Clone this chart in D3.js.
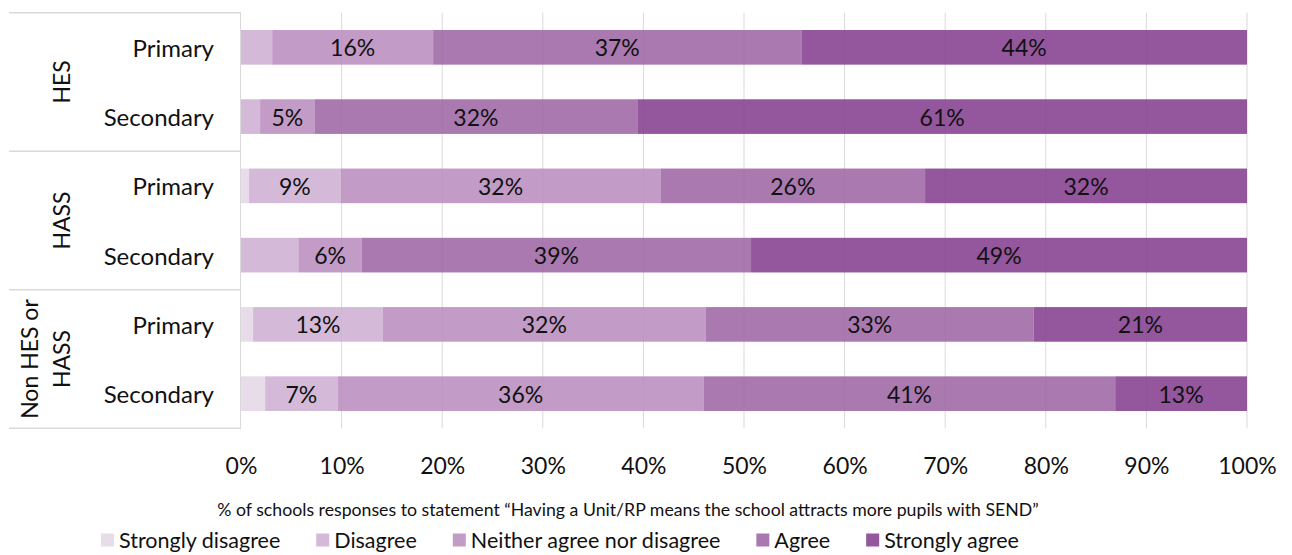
<!DOCTYPE html>
<html>
<head>
<meta charset="utf-8">
<script src="https://cdn.jsdelivr.net/npm/d3@7/dist/d3.min.js"></script>
<style>
  html, body { margin: 0; padding: 0; background: #fff; }
  svg { display: block; }
  text { font-family: Lato, "Open Sans", sans-serif; fill: #111; }
</style>
</head>
<body>
<svg id="chart" width="1292" height="555"></svg>
<script>
// ---------- data ----------
const groups = ["HES", "HASS", "Non HES or HASS"];
const subCategories = ["Primary", "Secondary"];
const seriesNames = ["Strongly disagree", "Disagree", "Neither agree nor disagree", "Agree", "Strongly agree"];
// rows: HES-Primary, HES-Secondary, HASS-Primary, HASS-Secondary, Non-Primary, Non-Secondary
const stronglyDisagree = [0, 0, 0.8, 0, 1.2, 2.4];
const disagree         = [3.1, 1.9, 9.1, 5.7, 12.9, 7.2];
const neither          = [16.0, 5.4, 31.8, 6.3, 32.1, 36.4];
const agree            = [36.6, 32.1, 26.3, 38.7, 32.6, 40.9];
const stronglyAgree    = [44.3, 60.6, 32.0, 49.3, 21.2, 13.1];
// which segments carry a data label
const labelSD = [false, false, false, false, false, false];
const labelD  = [false, false, true, false, true, true];
const labelN  = [true, true, true, true, true, true];
const labelA  = [true, true, true, true, true, true];
const labelSA = [true, true, true, true, true, true];
const tickValues = [0, 10, 20, 30, 40, 50, 60, 70, 80, 90, 100];
const axisTitle = "% of schools responses to statement \u201CHaving a Unit/RP means the school attracts more pupils with SEND\u201D";

// ---------- styles ----------
const colors = ["#e5d6e7", "#ceb0d3", "#ba8dbe", "#9d66a5", "#853f8f"];
const legendColors = ["#e8dbea", "#d4b9d8", "#c29bc6", "#a978b0", "#94569c"];
const barOpacity = 0.88;
const lineColor = "#d9d9d9";

const seriesValues = [stronglyDisagree, disagree, neither, agree, stronglyAgree];
const seriesLabels = [labelSD, labelD, labelN, labelA, labelSA];

const rows = [];
groups.forEach((g, gi) => subCategories.forEach((s, si) => rows.push({ id: gi * 2 + si, group: g, sub: s })));

const svg = d3.select("#chart");
const plotTop = 12.7, plotBottom = 428.3, plotLeft = 241, plotRight = 1247;
const boxLeft = 9;

const x = d3.scaleLinear().domain([0, 100]).range([plotLeft, plotRight]);
const y = d3.scaleBand().domain(rows.map(r => r.id)).range([plotTop, plotBottom]).paddingInner(0.5).paddingOuter(0.25);
const yGroup = d3.scaleBand().domain(groups).range([plotTop, plotBottom]);

// gridlines
svg.append("g").selectAll("line").data(tickValues.slice(1)).join("line")
  .attr("x1", d => x(d)).attr("x2", d => x(d))
  .attr("y1", plotTop).attr("y2", plotBottom)
  .attr("stroke", lineColor).attr("stroke-width", 1);

// stacked data
const stackData = rows.map(r => {
  const o = { id: r.id };
  seriesNames.forEach((n, i) => o[n] = seriesValues[i][r.id]);
  return o;
});
const stacked = d3.stack().keys(seriesNames)(stackData);

const layers = svg.append("g").selectAll("g").data(stacked).join("g")
  .attr("fill", (d, i) => colors[i]).attr("fill-opacity", barOpacity);
layers.selectAll("rect").data(d => d).join("rect")
  .attr("x", d => x(d[0]))
  .attr("width", d => Math.max(0, x(d[1]) - x(d[0])))
  .attr("y", d => y(d.data.id))
  .attr("height", y.bandwidth());

// data labels
const labelG = svg.append("g");
stacked.forEach((layer, si) => {
  layer.forEach(d => {
    const id = d.data.id;
    if (!seriesLabels[si][id]) return;
    labelG.append("text")
      .attr("x", x((d[0] + d[1]) / 2))
      .attr("y", y(id) + y.bandwidth() / 2)
      .attr("text-anchor", "middle")
      .attr("dominant-baseline", "central")
      .style("font-size", "23px")
      .text(Math.round(seriesValues[si][id]) + "%");
  });
});

// category axis box
svg.append("line").attr("x1", x(0) - 0.5).attr("x2", x(0) - 0.5).attr("y1", plotTop).attr("y2", plotBottom)
  .attr("stroke", lineColor);
const sepYs = [plotTop].concat(groups.map(g => yGroup(g) + yGroup.bandwidth()));
svg.append("g").selectAll("line").data(sepYs).join("line")
  .attr("x1", boxLeft).attr("x2", x(0)).attr("y1", d => d).attr("y2", d => d)
  .attr("stroke", lineColor).attr("stroke-width", 1.5);

// sub category labels
svg.append("g").selectAll("text").data(rows).join("text")
  .attr("x", 214)
  .attr("y", d => y(d.id) + y.bandwidth() / 2)
  .attr("text-anchor", "end")
  .attr("dominant-baseline", "central")
  .style("font-size", "24px")
  .text(d => d.sub);

// group labels (rotated)
const groupLines = { "HES": ["HES"], "HASS": ["HASS"], "Non HES or HASS": ["Non HES or", "HASS"] };
groups.forEach(g => {
  const lines = groupLines[g];
  const cy = yGroup(g) + yGroup.bandwidth() / 2;
  lines.forEach((ln, li) => {
    const cx = 61 - (lines.length - 1 - li) * 32;
    svg.append("text")
      .attr("transform", `translate(${cx},${cy}) rotate(-90)`)
      .attr("text-anchor", "middle")
      .attr("dominant-baseline", "central")
      .style("font-size", "23px")
      .text(ln);
  });
});

// x axis
const xAxis = d3.axisBottom(x).tickValues(tickValues).tickFormat(d => d + "%").tickSize(0).tickPadding(29);
const axG = svg.append("g").attr("transform", `translate(0,${plotBottom})`).call(xAxis);
axG.select(".domain").remove();
axG.selectAll("text").style("font-size", "23px").attr("fill", "#111").style("font-family", "Lato, sans-serif");

// axis title (centred over the plot area including the category box)
svg.append("text")
  .attr("x", (boxLeft + plotRight) / 2)
  .attr("y", 509)
  .attr("text-anchor", "middle")
  .attr("dominant-baseline", "central")
  .style("font-size", "17.7px")
  .text(axisTitle);

// legend
const legend = svg.append("g").attr("transform", "translate(101,540)");
let lx = 0;
seriesNames.forEach((n, i) => {
  legend.append("rect").attr("x", lx).attr("y", -6.5).attr("width", 13).attr("height", 13).attr("fill", legendColors[i]);
  const t = legend.append("text").attr("x", lx + 18).attr("y", 0)
    .attr("dominant-baseline", "central").style("font-size", "21.5px").text(n);
  lx += 18 + t.node().getComputedTextLength() + 36;
});
</script>
</body>
</html>
